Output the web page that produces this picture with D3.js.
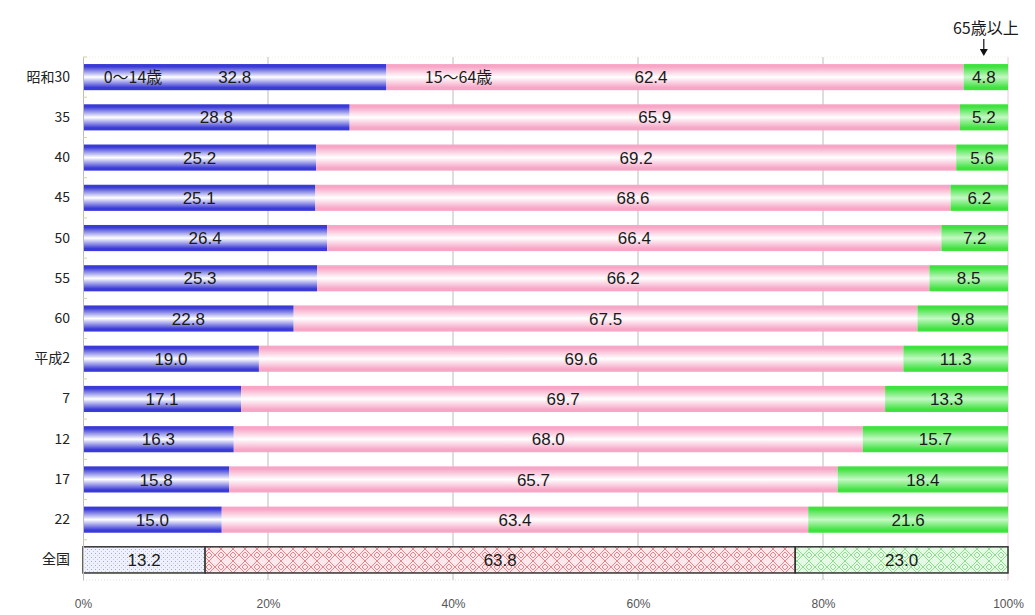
<!DOCTYPE html>
<html>
<head>
<meta charset="utf-8">
<script src="https://cdn.jsdelivr.net/npm/d3@7"></script>
<style>
  html, body { margin: 0; padding: 0; background: #fff; }
  svg { display: block; }
  text { font-family: "Liberation Sans", Arial, sans-serif; }
  .jp { font-family: "Noto Sans CJK JP", sans-serif; }
</style>
</head>
<body>
<div id="chart"></div>
<script>
const rowLabels = ['昭和30', '35', '40', '45', '50', '55', '60', '平成2', '7', '12', '17', '22', '全国'];
const young = [32.8, 28.8, 25.2, 25.1, 26.4, 25.3, 22.8, 19.0, 17.1, 16.3, 15.8, 15.0, 13.2];
const working = [62.4, 65.9, 69.2, 68.6, 66.4, 66.2, 67.5, 69.6, 69.7, 68.0, 65.7, 63.4, 63.8];
const old = [4.8, 5.2, 5.6, 6.2, 7.2, 8.5, 9.8, 11.3, 13.3, 15.7, 18.4, 21.6, 23.0];
const xTicks = [0, 20, 40, 60, 80, 100];
const seriesNames = ['0〜14歳', '15〜64歳', '65歳以上'];

const config = {
  width: 1035,
  height: 615,
  margin: {top: 57, right: 27, bottom: 35, left: 83}
};
const plotW = config.width - config.margin.left - config.margin.right;
const plotH = config.height - config.margin.top - config.margin.bottom;

const svg = d3.select('#chart').append('svg')
  .attr('width', config.width)
  .attr('height', config.height);

const defs = svg.append('defs');

// vertical gradients: dark edges, light middle
function addGradient(id, edge, mid) {
  const g = defs.append('linearGradient')
    .attr('id', id)
    .attr('x1', 0).attr('y1', 0).attr('x2', 0).attr('y2', 1);
  g.append('stop').attr('offset', '0%').attr('stop-color', edge);
  g.append('stop').attr('offset', '10%').attr('stop-color', edge);
  g.append('stop').attr('offset', '50%').attr('stop-color', mid);
  g.append('stop').attr('offset', '90%').attr('stop-color', edge);
  g.append('stop').attr('offset', '100%').attr('stop-color', edge);
}
addGradient('gBlue', '#3a3ad6', '#ffffff');
addGradient('gPink', '#f7a6c6', '#ffffff');
addGradient('gGreen', '#3fe23f', '#c4f8c4');

// patterns for the national row
const pBlue = defs.append('pattern').attr('id', 'pBlue')
  .attr('patternUnits', 'userSpaceOnUse').attr('width', 4).attr('height', 4);
pBlue.append('rect').attr('width', 4).attr('height', 4).attr('fill', '#f0f1ff');
pBlue.append('rect').attr('x', 0).attr('y', 0).attr('width', 1).attr('height', 1).attr('fill', '#a3a6ea');
pBlue.append('rect').attr('x', 2).attr('y', 2).attr('width', 1).attr('height', 1).attr('fill', '#c3c5f2');

function addDiamond(id, bg, fg) {
  const p = defs.append('pattern').attr('id', id)
    .attr('patternUnits', 'userSpaceOnUse').attr('width', 12).attr('height', 12);
  p.append('rect').attr('width', 12).attr('height', 12).attr('fill', bg);
  p.append('path')
    .attr('d', 'M0,6 L6,0 L12,6 L6,12 Z M3,6 L6,3 L9,6 L6,9 Z')
    .attr('fill', 'none').attr('stroke', fg).attr('stroke-width', 0.9);
}
addDiamond('pRed', '#fde8ec', '#e27a82');
addDiamond('pGreen', '#e4fae4', '#8ad88a');

const chart = svg.append('g')
  .attr('transform', `translate(${config.margin.left},${config.margin.top})`);

const xScale = d3.scaleLinear().domain([0, 100]).range([0, plotW]);
const yScale = d3.scaleBand().domain(rowLabels).range([0, plotH]).paddingInner(0.35).paddingOuter(0.175);

// gridlines
chart.selectAll('.grid')
  .data(xTicks.slice(1, -1))
  .enter()
  .append('line')
  .attr('x1', d => xScale(d)).attr('x2', d => xScale(d))
  .attr('y1', 0).attr('y2', plotH)
  .attr('stroke', '#bcbcbc').attr('stroke-width', 1);
chart.append('line')
  .attr('x1', xScale(100)).attr('x2', xScale(100))
  .attr('y1', 0).attr('y2', plotH)
  .attr('stroke', '#f2c4dc').attr('stroke-width', 1);
chart.append('line')
  .attr('x1', 0).attr('x2', plotW).attr('y1', plotH).attr('y2', plotH)
  .attr('stroke', '#dcdcdc').attr('stroke-dasharray', '1,2');
chart.append('line')
  .attr('x1', 0).attr('x2', plotW).attr('y1', 0).attr('y2', 0)
  .attr('stroke', '#f0f0e0').attr('stroke-dasharray', '1,2');

// stacked data (normalised to 100%)
const rows = rowLabels.map((label, i) => {
  const total = young[i] + working[i] + old[i];
  return {label, values: [young[i], working[i], old[i]], total};
});

const fills = ['url(#gBlue)', 'url(#gPink)', 'url(#gGreen)'];
const patternFills = ['url(#pBlue)', 'url(#pRed)', 'url(#pGreen)'];
const labelShift = {'昭和30': [0, -24, -2]};

rows.forEach((row, ri) => {
  let acc = 0;
  const national = row.label === '全国';
  row.values.forEach((v, si) => {
    const x0 = xScale(acc / row.total * 100);
    acc += v;
    const x1 = xScale(acc / row.total * 100);
    chart.append('rect')
      .attr('x', x0)
      .attr('y', yScale(row.label))
      .attr('width', x1 - x0)
      .attr('height', yScale.bandwidth())
      .attr('fill', national ? patternFills[si] : fills[si])
      .attr('stroke', national ? '#333' : 'none')
      .attr('stroke-width', national ? 1.5 : 0);
    const shift = (labelShift[row.label] || [0, 0, 0])[si];
    chart.append('text')
      .attr('x', (x0 + x1) / 2 + shift)
      .attr('y', yScale(row.label) + yScale.bandwidth() / 2)
      .attr('dy', '0.36em')
      .attr('text-anchor', 'middle')
      .attr('font-size', 17)
      .attr('fill', '#1a1a1a')
      .text(v.toFixed(1));
  });
});

// series names inside the first bar
const first = rows[0];
chart.append('text').attr('class', 'jp')
  .attr('x', xScale(5.4))
  .attr('y', yScale(first.label) + yScale.bandwidth() / 2)
  .attr('dy', '0.36em').attr('text-anchor', 'middle')
  .attr('font-size', 16).attr('fill', '#1a1a1a')
  .text(seriesNames[0]);
chart.append('text').attr('class', 'jp')
  .attr('x', xScale(40.6))
  .attr('y', yScale(first.label) + yScale.bandwidth() / 2)
  .attr('dy', '0.36em').attr('text-anchor', 'middle')
  .attr('font-size', 16).attr('fill', '#1a1a1a')
  .text(seriesNames[1]);

// 65+ annotation with arrow
const oldCenter = xScale((first.values[0] + first.values[1] + first.values[2] / 2) / first.total * 100) - 2;
chart.append('text').attr('class', 'jp')
  .attr('x', oldCenter + 2)
  .attr('y', -23)
  .attr('text-anchor', 'middle')
  .attr('font-size', 16).attr('fill', '#1a1a1a')
  .text(seriesNames[2]);
chart.append('line')
  .attr('x1', oldCenter).attr('x2', oldCenter)
  .attr('y1', -18).attr('y2', -4)
  .attr('stroke', '#111').attr('stroke-width', 1.2);
chart.append('path')
  .attr('d', `M${oldCenter - 4},-8 L${oldCenter + 4},-8 L${oldCenter},-1 Z`)
  .attr('fill', '#111');

// y axis
const yAxis = chart.append('g').call(d3.axisLeft(yScale).tickSize(0).tickPadding(13));
yAxis.select('.domain').attr('stroke', '#bdbdbd');
yAxis.selectAll('text')
  .attr('class', 'jp')
  .attr('font-size', 14)
  .attr('fill', '#222');
chart.selectAll('.ytick')
  .data(rowLabels)
  .enter()
  .append('line')
  .attr('x1', 0).attr('x2', 4)
  .attr('y1', d => yScale(d) - yScale.step() * yScale.paddingInner() / 2)
  .attr('y2', d => yScale(d) - yScale.step() * yScale.paddingInner() / 2)
  .attr('stroke', '#d8d0a0');

// x axis
const xAxis = chart.append('g')
  .attr('transform', `translate(0,${plotH})`)
  .call(d3.axisBottom(xScale).tickValues(xTicks).tickSize(0).tickPadding(19).tickFormat(d => d + '%'));
xAxis.select('.domain').remove();
xAxis.selectAll('text')
  .attr('font-size', 12)
  .attr('fill', '#555');
</script>
</body>
</html>
